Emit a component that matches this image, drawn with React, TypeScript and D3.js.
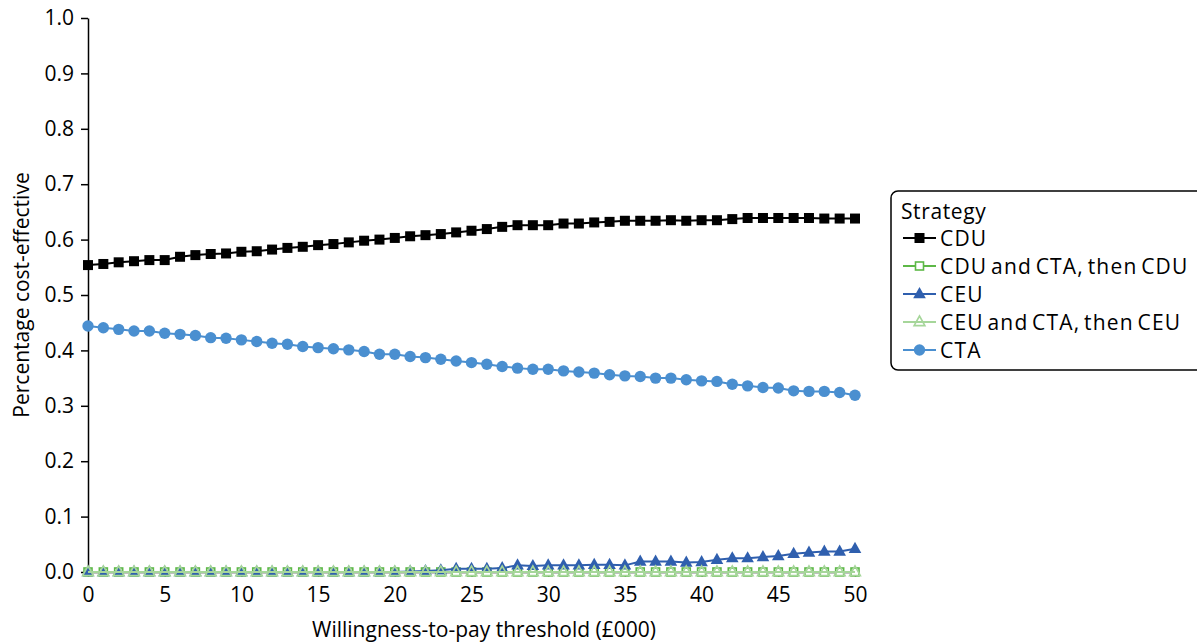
import { useEffect, useRef } from 'react'
import * as d3 from 'd3'

// willingness-to-pay threshold (£000)
const thresholds = d3.range(0, 51)

const cdu = [
	0.554, 0.556, 0.559, 0.561, 0.563, 0.563, 0.569, 0.572, 0.574, 0.575,
	0.578, 0.579, 0.582, 0.585, 0.587, 0.59, 0.592, 0.595, 0.598, 0.6,
	0.603, 0.606, 0.608, 0.61, 0.613, 0.616, 0.619, 0.623, 0.626, 0.626,
	0.626, 0.629, 0.629, 0.631, 0.632, 0.634, 0.634, 0.634, 0.635, 0.634,
	0.635, 0.635, 0.637, 0.639, 0.639, 0.639, 0.639, 0.639, 0.638, 0.638,
	0.638,
]
const cduCtaCdu = thresholds.map(() => 0)
const ceu = [
	0, 0, 0, 0, 0, 0, 0, 0, 0, 0,
	0, 0, 0, 0, 0, 0, 0, 0, 0, 0,
	0, 0.001, 0.002, 0.003, 0.006, 0.006, 0.006, 0.007, 0.012, 0.011,
	0.012, 0.012, 0.012, 0.013, 0.013, 0.012, 0.019, 0.019, 0.019, 0.017,
	0.018, 0.022, 0.025, 0.025, 0.027, 0.029, 0.033, 0.035, 0.037, 0.037,
	0.042,
]
const ceuCtaCeu = thresholds.map(() => 0)
const cta = [
	0.444, 0.441, 0.438, 0.435, 0.435, 0.431, 0.429, 0.427, 0.423, 0.422,
	0.419, 0.416, 0.413, 0.411, 0.407, 0.405, 0.403, 0.401, 0.398, 0.393,
	0.393, 0.389, 0.387, 0.384, 0.381, 0.378, 0.375, 0.371, 0.368, 0.366,
	0.366, 0.363, 0.361, 0.359, 0.356, 0.354, 0.353, 0.35, 0.35, 0.347,
	0.345, 0.344, 0.339, 0.336, 0.333, 0.332, 0.327, 0.326, 0.326, 0.324,
	0.319,
]

const xTicks = [0, 5, 10, 15, 20, 25, 30, 35, 40, 45, 50]
const yTicks = [0, 0.1, 0.2, 0.3, 0.4, 0.5, 0.6, 0.7, 0.8, 0.9, 1.0]

const series = [
	{ name: 'CDU', values: cdu, color: '#000000', shape: 'square', filled: true },
	{ name: 'CDU and CTA, then CDU', values: cduCtaCdu, color: '#5db847', shape: 'square', filled: false },
	{ name: 'CEU', values: ceu, color: '#2f5fae', shape: 'triangle', filled: true },
	{ name: 'CEU and CTA, then CEU', values: ceuCtaCeu, color: '#a6d69a', shape: 'triangle', filled: false },
	{ name: 'CTA', values: cta, color: '#4a8fd0', shape: 'circle', filled: true },
]

const FONT = '"Open Sans", sans-serif'
const FS = '21px'

const App = () => {
	const svgRef = useRef(null)

	useEffect(() => {
		const height = 642
		const margin = { top: 18, left: 88, bottom: 70 }

		const root = d3.select(svgRef.current)
		root.selectAll('*').remove()

		const x = d3.scaleLinear().domain([0, 50]).range([margin.left, 855])
		const y = d3.scaleLinear().domain([0, 1]).range([height - margin.bottom, margin.top])

		// Y axis
		const yAxis = root
			.append('g')
			.attr('transform', `translate(${margin.left},0)`)
			.call(d3.axisLeft(y).tickValues(yTicks).tickFormat(d3.format('.1f')).tickSize(7).tickSizeOuter(0))
		yAxis.select('.domain').attr('stroke', '#000').attr('stroke-width', 1.5)
		yAxis.selectAll('.tick line').attr('stroke', '#000').attr('stroke-width', 1.5)
		yAxis
			.selectAll('.tick text')
			.attr('x', -14)
			.style('font-family', FONT)
			.style('font-size', FS)
			.style('fill', '#000')

		// X axis
		const xAxis = root
			.append('g')
			.attr('transform', `translate(0,${y(0)})`)
			.call(d3.axisBottom(x).tickValues(xTicks).tickFormat(d3.format('d')).tickSize(5).tickSizeOuter(0))
		xAxis.select('.domain').attr('stroke', '#000').attr('stroke-width', 1.5)
		xAxis.selectAll('.tick line').attr('stroke', '#000').attr('stroke-width', 1.5)
		xAxis
			.selectAll('.tick text')
			.attr('y', 15)
			.style('font-family', FONT)
			.style('font-size', FS)
			.style('fill', '#000')

		// Axis titles
		root
			.append('text')
			.attr('x', 484)
			.attr('y', 637)
			.attr('text-anchor', 'middle')
			.style('font-family', FONT)
			.style('font-size', FS)
			.text('Willingness-to-pay threshold (£000)')

		root
			.append('text')
			.attr('transform', `translate(29,${y(0.5)}) rotate(-90)`)
			.attr('text-anchor', 'middle')
			.style('font-family', FONT)
			.style('font-size', FS)
			.text('Percentage cost-effective')

		const line = d3
			.line()
			.x((d, i) => x(thresholds[i]))
			.y((d) => y(d))

		const drawMarker = (g, s, cx, cy) => {
			const fill = s.filled ? s.color : s.shape === 'triangle' ? 'none' : '#fff'
			const sw = s.filled ? 0 : 1.6
			if (s.shape === 'square') {
				const size = s.filled ? 10 : 8
				g.append('rect')
					.attr('x', cx - size / 2)
					.attr('y', cy - size / 2)
					.attr('width', size)
					.attr('height', size)
					.attr('fill', fill)
					.attr('stroke', s.color)
					.attr('stroke-width', sw)
			} else if (s.shape === 'triangle') {
				const r = s.filled ? 7 : 6
				const pts = [
					[cx, cy - r],
					[cx + r * 0.9, cy + r * 0.6],
					[cx - r * 0.9, cy + r * 0.6],
				]
				g.append('polygon')
					.attr('points', pts.map((p) => p.join(',')).join(' '))
					.attr('fill', fill)
					.attr('stroke', s.color)
					.attr('stroke-width', sw)
			} else {
				g.append('circle')
					.attr('cx', cx)
					.attr('cy', cy)
					.attr('r', 5.7)
					.attr('fill', fill)
			}
		}

		// Series lines and markers
		series.forEach((s) => {
			const g = root.append('g')
			g.append('path')
				.datum(s.values)
				.attr('d', line)
				.attr('fill', 'none')
				.attr('stroke', s.color)
				.attr('stroke-width', 2)
			s.values.forEach((v, i) => drawMarker(g, s, x(thresholds[i]), y(v)))
		})

		// Legend
		const lg = root.append('g').attr('transform', 'translate(891,191)')
		lg.append('rect')
			.attr('width', 330)
			.attr('height', 179)
			.attr('rx', 7)
			.attr('fill', '#fff')
			.attr('stroke', '#000')
			.attr('stroke-width', 1.5)
		lg.append('text')
			.attr('x', 10)
			.attr('y', 28)
			.style('font-family', FONT)
			.style('font-size', FS)
			.style('letter-spacing', '0.6px')
			.text('Strategy')
		series.forEach((s, i) => {
			const cy = 47 + i * 28
			lg.append('line')
				.attr('x1', 12)
				.attr('x2', 45)
				.attr('y1', cy)
				.attr('y2', cy)
				.attr('stroke', s.color)
				.attr('stroke-width', 2)
			drawMarker(lg, s, 28.5, cy)
			lg.append('text')
				.attr('x', 49)
				.attr('y', cy + 7.5)
				.style('font-family', FONT)
				.style('font-size', FS)
				.style('letter-spacing', '1.2px')
				.style('word-spacing', '-3px')
				.text(s.name)
		})
	}, [])

	return (
		<svg
			ref={svgRef}
			width={1197}
			height={642}
			style={{ position: 'absolute', left: 0, top: 0, background: '#fff' }}
		></svg>
	)
}

export default App
